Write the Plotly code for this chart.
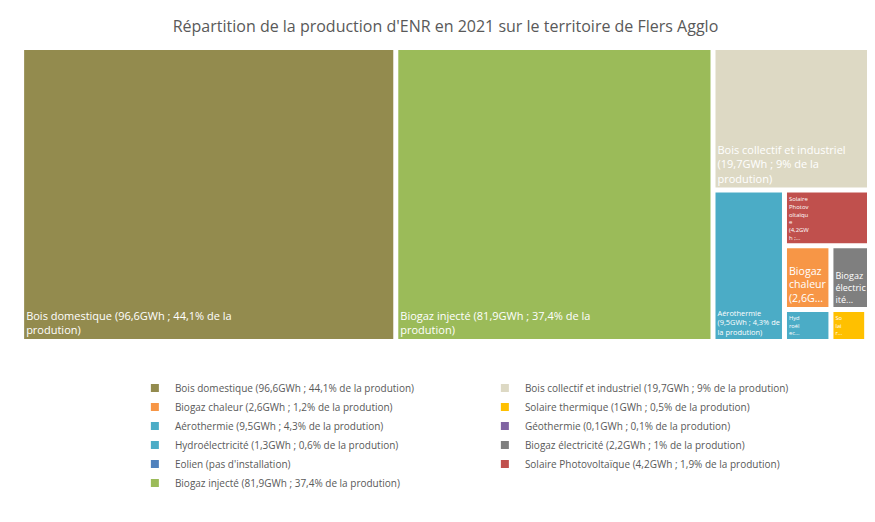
import plotly.graph_objects as go

names = ["Bois domestique", "Biogaz injecté", "Bois collectif et industriel", "Aérothermie",
         "Solaire Photovoltaïque", "Biogaz chaleur", "Biogaz électricité", "Hydroélectricité",
         "Solaire thermique", "Géothermie", "Eolien"]
values = [96.6, 81.9, 19.7, 9.5, 4.2, 2.6, 2.2, 1.3, 1.0, 0.1, 0.0]
tile_text = ["Bois domestique (96,6GWh ; 44,1% de la<br>prodution)",
             "Biogaz injecté (81,9GWh ; 37,4% de la<br>prodution)",
             "Bois collectif et industriel<br>(19,7GWh ; 9% de la<br>prodution)",
             "Aérothermie<br>(9,5GWh ; 4,3% de<br>la prodution)",
             "Solaire<br>Photov<br>oltaïqu<br>e<br>(4,2GW<br>h ;...",
             "Biogaz<br>chaleur<br>(2,6G...",
             "Biogaz<br>électric<br>ité...",
             "Hyd<br>roél<br>ec...",
             "So<br>lai<br>r...",
             " ", " "]
legend_text = ["Bois domestique (96,6GWh ; 44,1% de la prodution)",
               "Biogaz injecté (81,9GWh ; 37,4% de la prodution)",
               "Bois collectif et industriel (19,7GWh ; 9% de la prodution)",
               "Aérothermie (9,5GWh ; 4,3% de la prodution)",
               "Solaire Photovoltaïque (4,2GWh ; 1,9% de la prodution)",
               "Biogaz chaleur (2,6GWh ; 1,2% de la prodution)",
               "Biogaz électricité (2,2GWh ; 1% de la prodution)",
               "Hydroélectricité (1,3GWh ; 0,6% de la prodution)",
               "Solaire thermique (1GWh ; 0,5% de la prodution)",
               "Géothermie (0,1GWh ; 0,1% de la prodution)",
               "Eolien (pas d'installation)"]
colors = ["#938B4E", "#9BBB59", "#DDD9C4", "#4BACC6", "#C0504D", "#F79646",
          "#7F7F7F", "#4BACC6", "#FFC000", "#8064A2", "#4F81BD"]
legend_order = [0, 2, 5, 8, 3, 9, 7, 6, 10, 4, 1]

# tiles with a value of zero are left out of the treemap
shown = [i for i, v in enumerate(values) if v > 0]

fig = go.Figure()
fig.add_trace(go.Treemap(
    labels=[names[i] for i in shown], parents=[""] * len(shown),
    values=[values[i] for i in shown],
    text=[tile_text[i] for i in shown], texttemplate="%{text}",
    textposition="bottom left",
    marker=dict(colors=[colors[i] for i in shown], line=dict(color="white", width=2)),
    textfont=dict(color="white", size=11, family="Open Sans"),
    tiling=dict(packing="squarify"), pathbar=dict(visible=False),
    hoverinfo="label+value",
    domain=dict(x=[0.011, 0.99], y=[0.322, 0.932]),
))
for i in legend_order:
    fig.add_trace(go.Scatter(
        x=[None], y=[None], mode="markers", name=legend_text[i],
        marker=dict(symbol="square", size=8, color=colors[i]),
    ))

fig.update_layout(
    width=875, height=522, margin=dict(l=0, r=0, t=0, b=0),
    paper_bgcolor="white", plot_bgcolor="white",
    font=dict(family="Open Sans", color="#595959", size=11),
    title=dict(text="Répartition de la production d'ENR en 2021 sur le territoire de Flers Agglo",
               x=0.5, y=0.975, xanchor="center", font=dict(size=16, color="#595959")),
    xaxis=dict(visible=False), yaxis=dict(visible=False),
    legend=dict(orientation="h", x=0.145, y=0.3, xanchor="left", yanchor="top",
                entrywidth=305, entrywidthmode="pixels", tracegroupgap=0,
                font=dict(size=10, color="#595959")),
)
fig.write_html("out.html")
